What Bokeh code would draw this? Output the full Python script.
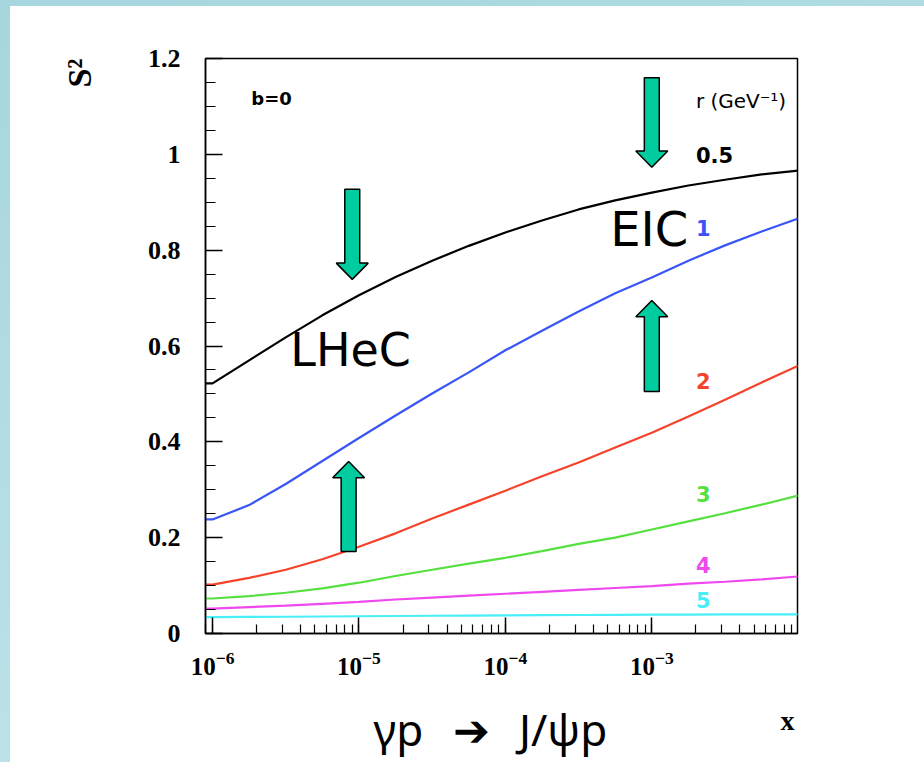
import numpy as np
from bokeh.plotting import figure
from bokeh.models import Label, LogTicker, LogTickFormatter, Title, FixedTicker, Range1d
from bokeh.layouts import column
from bokeh.embed import file_html
from bokeh.resources import INLINE
from bokeh.core.properties import value

# ---- data ----
x_exp = [-6.05, -6.0, -5.75, -5.5, -5.25, -5.0, -4.75, -4.5, -4.25, -4.0,
         -3.75, -3.5, -3.25, -3.0, -2.75, -2.5, -2.25, -2.0]
x_vals = [10 ** e for e in x_exp]

s2_r05 = [0.522, 0.522, 0.570, 0.618, 0.664, 0.706, 0.744, 0.778, 0.809, 0.837,
          0.862, 0.885, 0.904, 0.920, 0.935, 0.947, 0.958, 0.966]
s2_r1 = [0.238, 0.238, 0.268, 0.312, 0.360, 0.408, 0.455, 0.501, 0.545, 0.591,
         0.632, 0.672, 0.710, 0.743, 0.778, 0.810, 0.839, 0.866]
s2_r2 = [0.102, 0.102, 0.116, 0.133, 0.155, 0.181, 0.209, 0.240, 0.269, 0.298,
         0.328, 0.357, 0.388, 0.419, 0.453, 0.488, 0.524, 0.559]
s2_r3 = [0.073, 0.073, 0.078, 0.085, 0.094, 0.106, 0.120, 0.133, 0.146, 0.158,
         0.172, 0.187, 0.200, 0.217, 0.234, 0.251, 0.269, 0.288]
s2_r4 = [0.052, 0.052, 0.055, 0.058, 0.062, 0.066, 0.071, 0.075, 0.079, 0.083,
         0.087, 0.091, 0.095, 0.099, 0.104, 0.108, 0.113, 0.119]
s2_r5 = [0.034, 0.034, 0.0345, 0.035, 0.0355, 0.036, 0.0365, 0.037, 0.0375, 0.038,
         0.0383, 0.0386, 0.039, 0.0393, 0.0396, 0.040, 0.040, 0.040]

series_names = ["0.5", "1", "2", "3", "4", "5"]
series_vals = [s2_r05, s2_r1, s2_r2, s2_r3, s2_r4, s2_r5]
series_colors = ["#000000", "#3a55f5", "#f5432a", "#55e040", "#ee48ee", "#48eef8"]
series_label_y = [0.998, 0.847, 0.528, 0.292, 0.142, 0.069]

y_ticks = [0, 0.2, 0.4, 0.6, 0.8, 1.0, 1.2]
y_minor_ticks = [0.05, 0.1, 0.15, 0.25, 0.3, 0.35, 0.45, 0.5, 0.55, 0.65, 0.7, 0.75,
                 0.85, 0.9, 0.95, 1.05, 1.1, 1.15]
y_tick_labels = {0: "0", 0.2: "0.2", 0.4: "0.4", 0.6: "0.6", 0.8: "0.8", 1.0: "1", 1.2: "1.2"}

# arrows: center x, tail y, tip y
arrow_x = [9e-6, 1e-3, 8.5e-6, 1e-3]
arrow_tail = [0.927, 1.160, 0.171, 0.505]
arrow_tip = [0.739, 0.973, 0.359, 0.695]

# ---- main figure ----
xr = Range1d(10 ** -6.048, 10 ** -2.005)
p = figure(width=914, height=684, x_axis_type="log",
           x_range=xr, y_range=(0, 1.2),
           output_backend="svg", toolbar_location=None,
           min_border_left=195, min_border_right=127,
           min_border_top=52, min_border_bottom=57)
p.background_fill_color = "white"
p.border_fill_color = "white"
p.outline_line_color = "black"
p.outline_line_width = 1.5
p.xgrid.visible = False
p.ygrid.visible = False
p.margin = (6, 0, 0, 10)
p.styles = {"background-color": "white"}

tick_font = "Liberation Serif"
xa = p.xaxis[0]
xa.ticker = LogTicker(num_minor_ticks=10)
xa.formatter = LogTickFormatter()
xa.major_tick_in = 16
xa.major_tick_out = 0
xa.minor_tick_in = 9
xa.minor_tick_out = 0
xa.major_tick_line_color = "black"
xa.minor_tick_line_color = "black"
xa.major_tick_line_width = 1.5
xa.minor_tick_line_width = 1.2
xa.axis_line_width = 1.5
xa.major_label_text_font = tick_font
xa.major_label_text_font_style = "bold"
xa.major_label_text_font_size = "25px"
xa.major_label_text_color = "black"
xa.major_label_standoff = 18

ya = p.yaxis[0]
ya.ticker = FixedTicker(ticks=y_ticks, minor_ticks=y_minor_ticks)
ya.major_label_overrides = y_tick_labels
ya.major_tick_in = 17
ya.major_tick_out = 0
ya.minor_tick_in = 10
ya.minor_tick_out = 0
ya.major_tick_line_color = "black"
ya.minor_tick_line_color = "black"
ya.major_tick_line_width = 1.5
ya.minor_tick_line_width = 1.2
ya.axis_line_width = 1.5
ya.major_label_text_font = tick_font
ya.major_label_text_font_style = "bold"
ya.major_label_text_font_size = "26px"
ya.major_label_text_color = "black"
ya.major_label_standoff = 25

# y title "S²" at the top of the left side
p.add_layout(Title(text="S\u00b2", align="right", vertical_align="middle", standoff=92,
                   offset=0, text_font=tick_font, text_font_style="bold",
                   text_font_size="34px", text_color="black"), "left")

# curves
for vals, col in zip(series_vals, series_colors):
    p.line(x_vals, vals, line_color=col, line_width=2.2)

# arrows (teal block arrows)
shaft_hw = 0.051   # decades
head_hw = 0.109    # decades
head_len = 0.034   # y units
xs_all, ys_all = [], []
for xc, tail, tip in zip(arrow_x, arrow_tail, arrow_tip):
    d = 1 if tip > tail else -1
    base = tip - d * head_len
    xl_s, xr_s = xc * 10 ** -shaft_hw, xc * 10 ** shaft_hw
    xl_h, xr_h = xc * 10 ** -head_hw, xc * 10 ** head_hw
    xs_all.append([xl_s, xr_s, xr_s, xr_h, xc, xl_h, xl_s])
    ys_all.append([tail, tail, base, base, tip, base, base])
p.patches(xs_all, ys_all, fill_color="#00cc9f", line_color="black", line_width=1.5)

sans = "DejaVu Sans"
p.add_layout(Label(x=2.0e-3, y=1.112, text="r (GeV\u207b\u00b9)", text_font=sans,
                   text_font_size="20px", text_baseline="middle", text_color="black"))
for name, col, ly in zip(series_names, series_colors, series_label_y):
    p.add_layout(Label(x=2.0e-3, y=ly, text=name, text_font=sans,
                       text_font_style="bold", text_font_size="21px",
                       text_baseline="middle", text_color=col))

p.add_layout(Label(x=1.84e-6, y=1.117, text="b=0", text_font=sans, text_font_style="bold",
                   text_font_size="18px", text_baseline="middle", text_color="black"))
p.add_layout(Label(x=5.2e-4, y=0.845, text="EIC", text_font=sans,
                   text_font_size="48px", text_baseline="middle", text_color="black"))
p.add_layout(Label(x=3.4e-6, y=0.591, text="LHeC", text_font=sans,
                   text_font_size="46px", text_baseline="middle", text_color="black"))

# ---- bottom strip with the x titles (shares the x scale of the main plot) ----
q = figure(width=914, height=72, x_axis_type="log", x_range=xr, y_range=(0, 72),
           output_backend="svg", toolbar_location=None,
           min_border_left=195, min_border_right=127, min_border_top=0, min_border_bottom=0,
           outline_line_color=None)
q.axis.visible = False
q.grid.visible = False
q.background_fill_color = "white"
q.border_fill_color = "white"
q.margin = (0, 0, 0, 10)
q.styles = {"background-color": "white"}
q.text(x=[7.9e-5], y=[34], text=["\u03b3p\u2002\u2009\u2794\u2002\u2009J/\u03c8p"],
       text_font=value("Noto Sans"),
       text_font_size="44px", text_align="center", text_baseline="middle", text_color="black")
q.text(x=[8.45e-3], y=[42], text=["x"], text_font=value(tick_font), text_font_style="bold",
       text_font_size="28px", text_align="center", text_baseline="middle", text_color="black")

layout = column(p, q, spacing=0,
                styles={"background": "linear-gradient(160deg, #a6d6de 0%, #b9e0e6 60%, #c8e8ee 100%)"})
open("out.html", "w").write(file_html(layout, INLINE))
